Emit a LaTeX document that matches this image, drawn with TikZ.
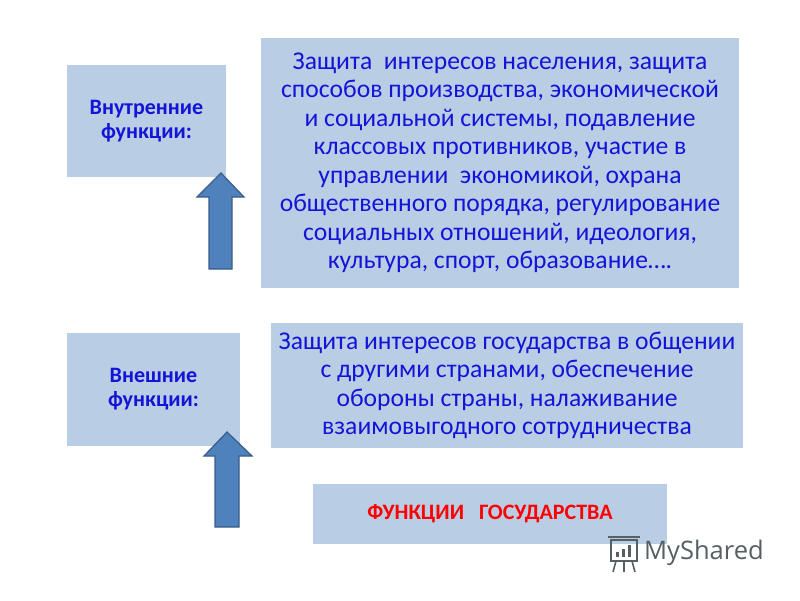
\documentclass[tikz,border=0pt]{standalone}
\usepackage{fontspec}
\setmainfont{Carlito}
\newfontfamily\wmfont{Open Sans}
\definecolor{boxfill}{RGB}{185,205,229}
\definecolor{txtblue}{RGB}{20,20,215}
\definecolor{arrfill}{RGB}{79,129,189}
\definecolor{arrline}{RGB}{56,93,138}
\definecolor{wmgray}{RGB}{85,95,100}
\tikzset{
  box/.style={fill=boxfill, draw=none, inner sep=0pt, align=center, text=txtblue},
  bigtext/.style={font=\fontsize{25.6}{28.5}\selectfont},
  labeltext/.style={font=\fontsize{22}{24}\selectfont\bfseries},
  blockarrow/.style={fill=arrfill, draw=arrline, line width=1.2pt, line join=miter},
}
\begin{document}
\begin{tikzpicture}[x=1pt,y=-1pt]
\useasboundingbox (0,0) rectangle (800,600);
\fill[white] (0,0) rectangle (800,600);

\node[box, labeltext, minimum width=159pt, minimum height=112pt] (inner) at (146.5,121) {Внутренние\\функции:};
\node[box, bigtext, minimum width=478pt, minimum height=250pt] (innertext) at (500,163)
 {Защита\ \ интересов населения, защита\\способов производства, экономической\\и социальной системы, подавление\\классовых противников, участие в\\управлении\ \ экономикой, охрана\\общественного порядка, регулирование\\социальных отношений, идеология,\\культура, спорт, образование….};

\node[box, labeltext, minimum width=173pt, minimum height=113pt] (outer) at (153.5,389.5) {Внешние\\функции:};
\node[box, bigtext, minimum width=472pt, minimum height=125pt] (outertext) at (507,385.5)
 {Защита интересов государства в общении\\с другими странами, обеспечение\\обороны страны, налаживание\\взаимовыгодного сотрудничества};

\node[box, labeltext, text=red, minimum width=354pt, minimum height=60pt] (state) at (490,514) {ФУНКЦИИ\ \ \ ГОСУДАРСТВА};

\draw[blockarrow] (221,173) -- (244,197) -- (232,197) -- (232,269) -- (209,269) -- (209,197) -- (197,197) -- cycle;
\draw[blockarrow] (227,432) -- (252,456) -- (239,456) -- (239,527) -- (215,527) -- (215,456) -- (204,456) -- cycle;

% watermark
\node[text=wmgray, font=\wmfont\fontsize{25.5}{27}\selectfont, anchor=west, inner sep=0pt] (wm) at (644,553) {MyShared};
\begin{scope}[draw=wmgray, line width=1.6pt]
\draw (611,540) rectangle (637,561);
\draw (608,537) -- (640,537);
\draw (616,561) -- (613,572);
\draw (624,561) -- (624,572);
\draw (632,561) -- (635,572);
\fill[wmgray] (616,552) rectangle (619,557);
\fill[wmgray] (622,549) rectangle (625,557);
\fill[wmgray] (628,545) rectangle (631,557);
\end{scope}
\end{tikzpicture}
\end{document}
